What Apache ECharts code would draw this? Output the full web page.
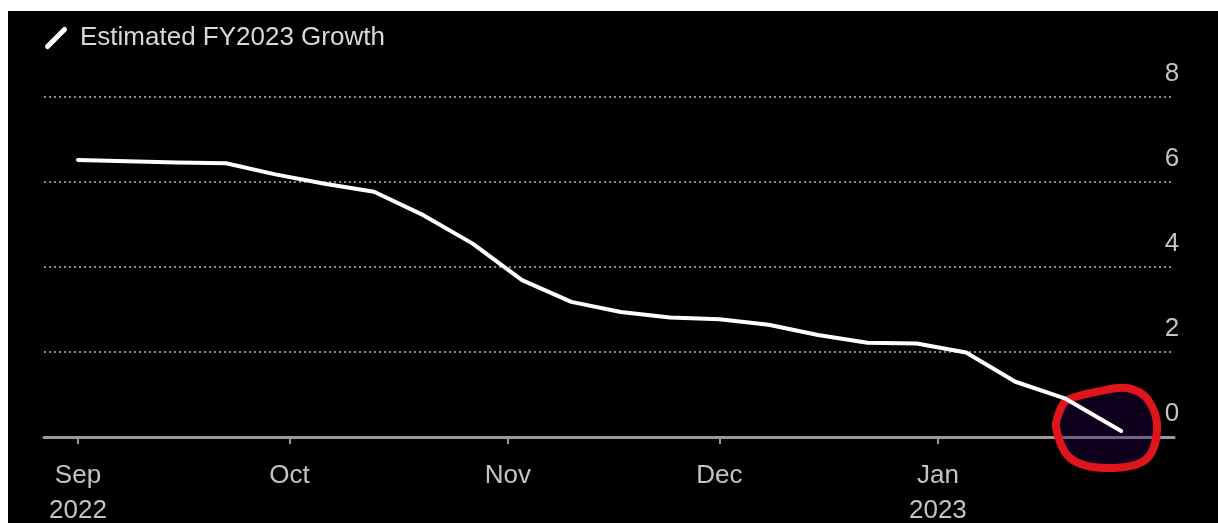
<!DOCTYPE html>
<html>
<head>
<meta charset="utf-8">
<script src="https://cdn.jsdelivr.net/npm/echarts@6/dist/echarts.min.js"></script>
<style>
  html, body { margin: 0; padding: 0; background: #ffffff; }
  #c { position: absolute; left: 8px; top: 11px; width: 1210px; height: 512px; background: #000; }
</style>
</head>
<body>
<div id="c"></div>
<script>
// ---- data ----
const seriesName = 'Estimated FY2023 Growth';
const dates = [
  '2022-09-01', '2022-09-08', '2022-09-15', '2022-09-22', '2022-09-29',
  '2022-10-06', '2022-10-13', '2022-10-20', '2022-10-27',
  '2022-11-03', '2022-11-10', '2022-11-17', '2022-11-24',
  '2022-12-01', '2022-12-08', '2022-12-15', '2022-12-22', '2022-12-29',
  '2023-01-05', '2023-01-12', '2023-01-19', '2023-01-27'
];
const growth = [
  6.52, 6.49, 6.46, 6.44, 6.18,
  5.96, 5.77, 5.22, 4.55,
  3.69, 3.18, 2.94, 2.81,
  2.77, 2.64, 2.40, 2.22, 2.20,
  1.99, 1.30, 0.91, 0.14
];
const monthTicks = ['2022-09-01', '2022-10-01', '2022-11-01', '2022-12-01', '2023-01-01'];
const monthNames = ['Jan','Feb','Mar','Apr','May','Jun','Jul','Aug','Sep','Oct','Nov','Dec'];
const yTicks = [0, 2, 4, 6, 8];

function toTs(s) {
  const p = s.split('-').map(Number);
  return new Date(p[0], p[1] - 1, p[2]).getTime();
}
const DAY = 86400000;
const xMin = toTs('2022-09-01') - 4.82 * DAY;
const xMax = toTs('2022-09-01') + 155.5 * DAY;
const tickTs = monthTicks.map(toTs);

const chart = echarts.init(document.getElementById('c'), null, { renderer: 'canvas' });
const labelFont = '"Liberation Sans", Arial, sans-serif';

const option = {
  backgroundColor: '#000000',
  animation: false,
  legend: {
    show: true,
    left: 32,
    top: 9,
    itemWidth: 22,
    itemHeight: 22,
    icon: 'path://M0,18 L16,2 A2.4,2.4 0 0 1 19.4,5.4 L3.4,21.4 A2.4,2.4 0 0 1 0,18 Z',
    itemStyle: { color: '#ffffff' },
    textStyle: { color: '#d8d8d8', fontSize: 26, fontFamily: labelFont, padding: [3, 0, 0, 8] },
    data: [seriesName]
  },
  grid: {
    left: 36,
    right: 44,
    top: 86,
    bottom: 86,
    outerBoundsMode: 'none'
  },
  xAxis: {
    type: 'value',
    min: xMin,
    max: xMax,
    axisLine: { show: true, lineStyle: { color: '#9a9a9a', width: 3 } },
    axisTick: {
      show: true, length: 7, inside: false,
      lineStyle: { color: '#9a9a9a', width: 2 },
      customValues: tickTs
    },
    axisLabel: {
      customValues: tickTs,
      color: '#c4c4c4',
      fontSize: 26,
      fontFamily: labelFont,
      lineHeight: 35,
      margin: 21,
      formatter: function (val) {
        const d = new Date(val);
        const m = monthNames[d.getMonth()];
        if (d.getMonth() === 0 || (d.getMonth() === 8 && d.getFullYear() === 2022)) {
          return m + '\n' + d.getFullYear();
        }
        return m;
      }
    },
    splitLine: { show: false }
  },
  yAxis: {
    type: 'value',
    position: 'right',
    min: 0,
    max: 8,
    interval: 2,
    axisLine: { show: false },
    axisTick: { show: false },
    axisLabel: {
      color: '#c4c4c4',
      fontSize: 26,
      fontFamily: labelFont,
      align: 'center',
      verticalAlign: 'bottom',
      lineHeight: 46,
      margin: -2,
      formatter: function (v) { return yTicks.indexOf(v) >= 0 ? String(v) : ''; }
    },
    splitLine: {
      show: true,
      lineStyle: { color: '#8a8a8a', width: 2, type: [2, 3] }
    }
  },
  series: [{
    name: seriesName,
    type: 'line',
    data: dates.map((d, i) => [toTs(d), growth[i]]),
    showSymbol: false,
    symbol: 'none',
    lineStyle: { color: '#ffffff', width: 4, cap: 'round', join: 'round' },
    itemStyle: { color: '#ffffff' },
    z: 3
  }]
};
chart.setOption(option);

// hand-drawn style red loop around the last point
const last = chart.convertToPixel({ xAxisIndex: 0, yAxisIndex: 0 },
  [toTs(dates[dates.length - 1]), growth[growth.length - 1]]);
const rel = [[-54,-31],[-21,-40],[6,-43],[27,-31],[36,-1],[24,29],[-16,37],[-51,27],[-65,-3],[-61,-21]];
chart.setOption({
  graphic: [{
    type: 'polygon',
    z: 1,
    shape: { points: rel.map(p => [last[0] + p[0], last[1] + p[1]]), smooth: 0.35 },
    style: { fill: 'rgba(40,0,80,0.35)', stroke: '#e0141b', lineWidth: 8 }
  }]
});
</script>
</body>
</html>
